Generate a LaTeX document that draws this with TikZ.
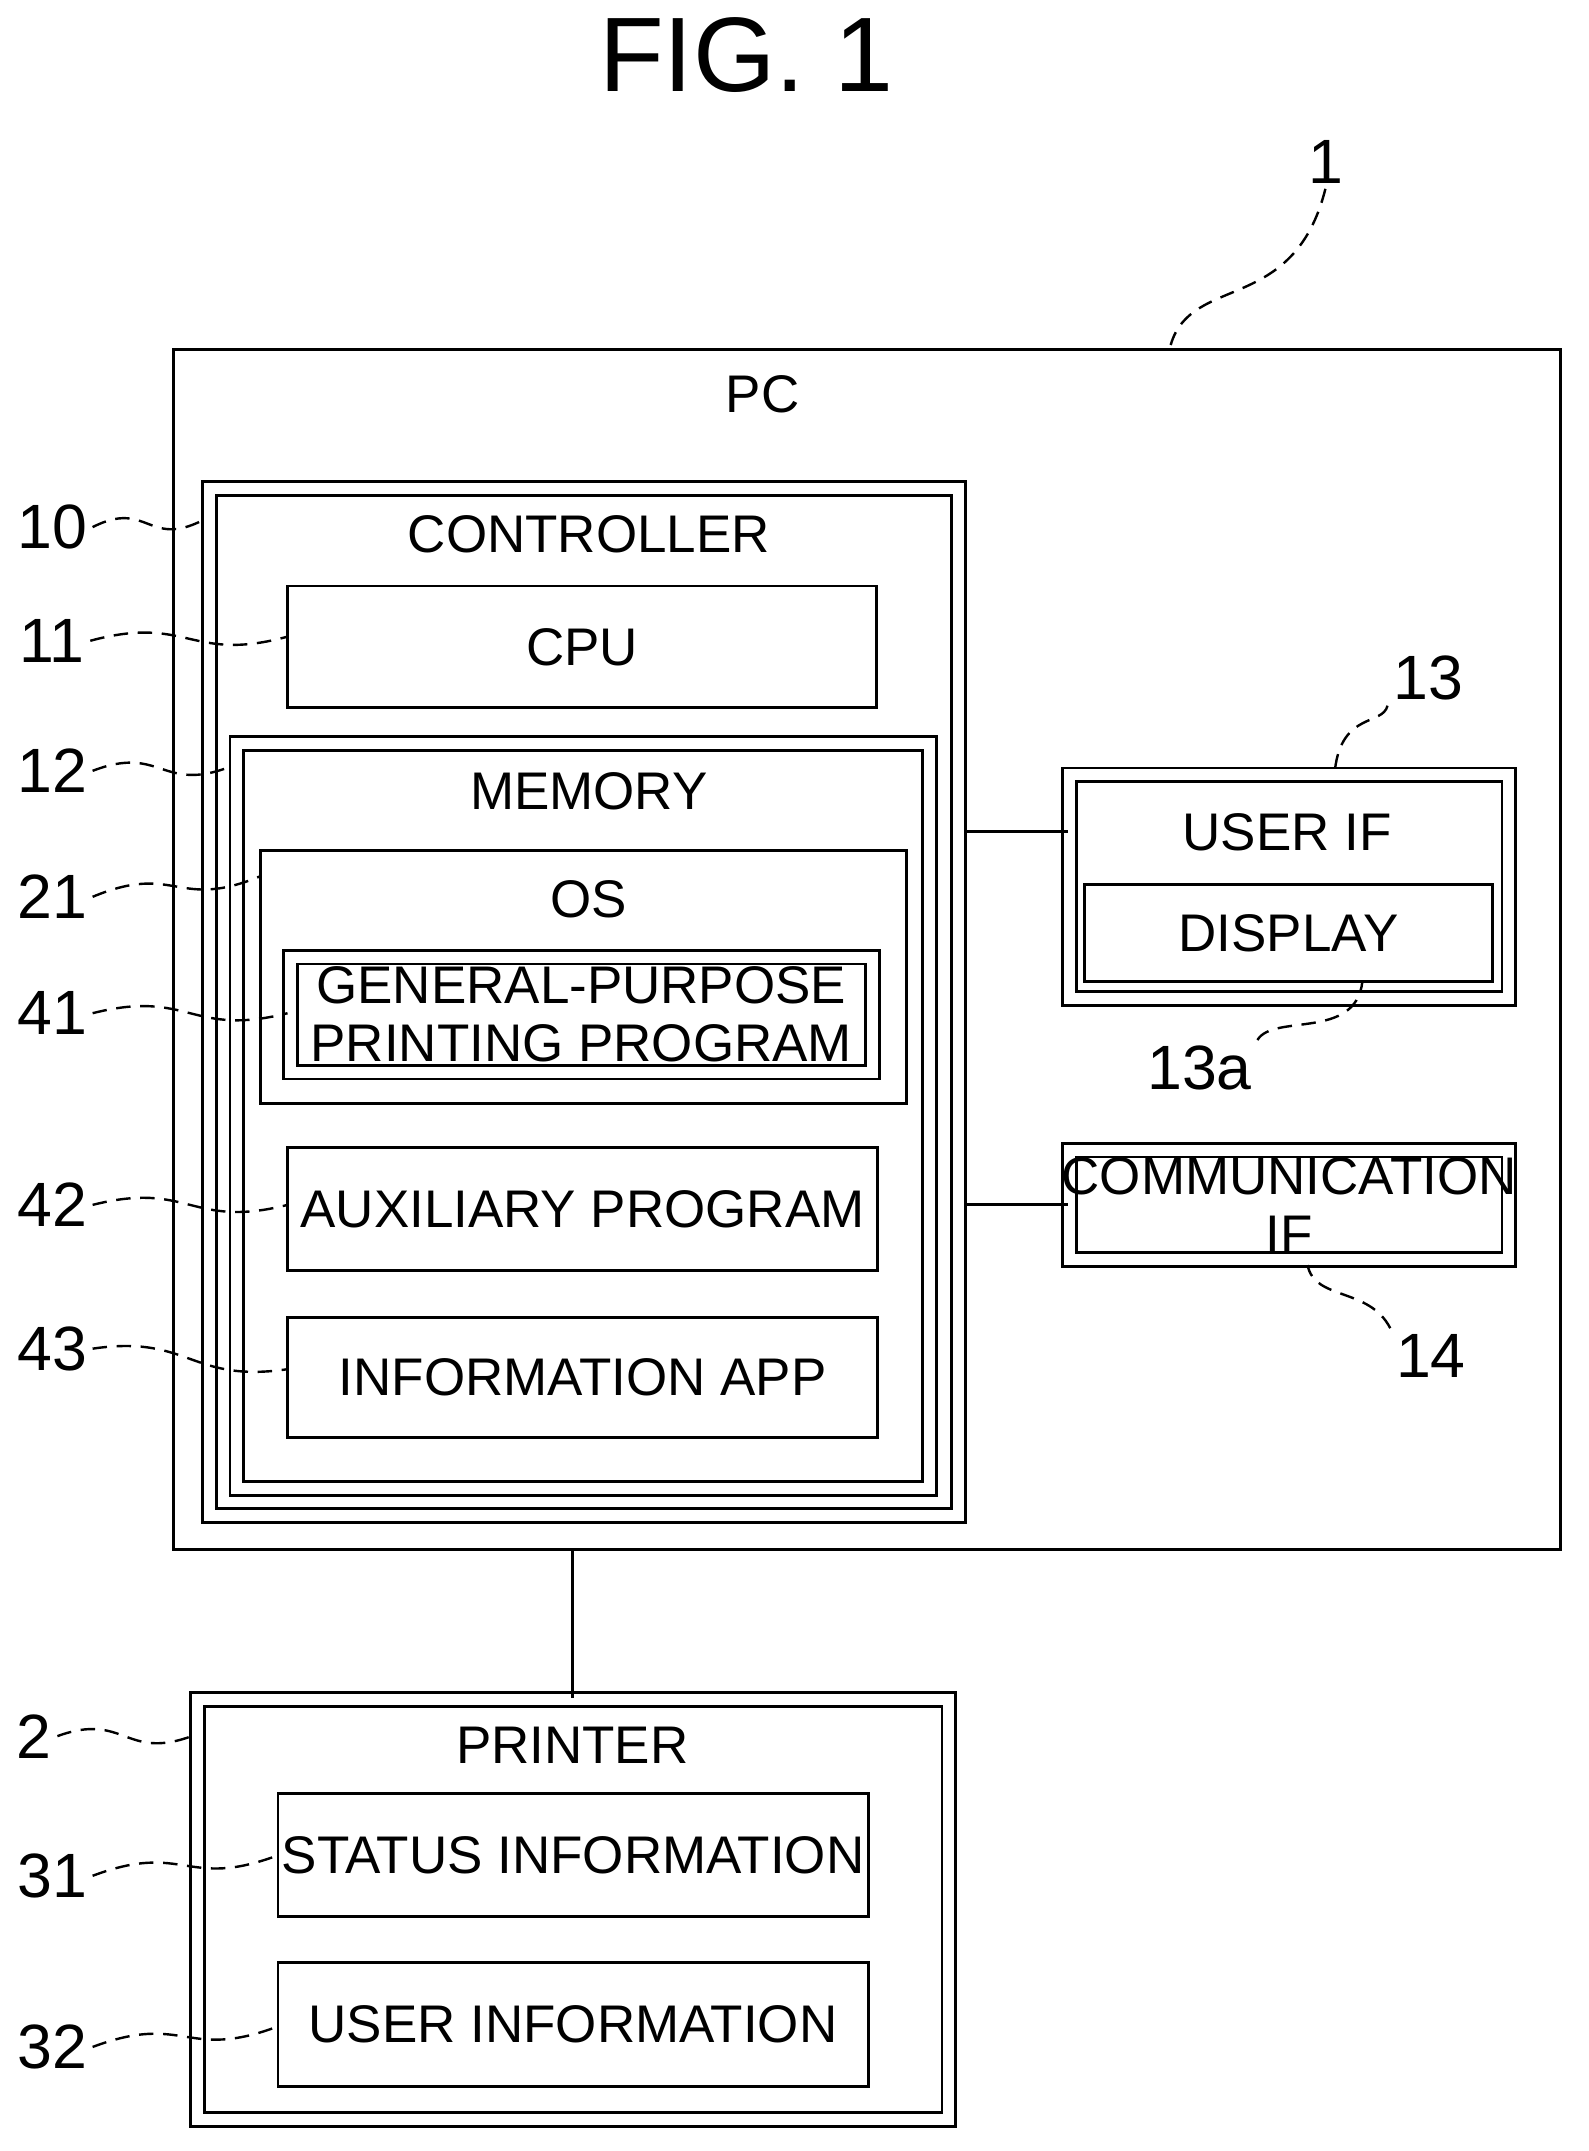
\documentclass[tikz,border=0pt]{standalone}
\usepackage{fontspec}
\setmainfont{Liberation Sans}
\usetikzlibrary{fit,calc}
\tikzset{
  box/.style={draw, inner sep=0pt, line width=0.6pt},
  dbox/.style={box, double, double distance=0.08cm},
  txt/.style={font=\fontsize{11}{12}\selectfont, inner sep=0pt},
  refno/.style={font=\fontsize{13}{14}\selectfont, inner sep=1pt},
  lead/.style={line width=0.5pt, densely dashed}
}
\newcommand{\leadline}[2]{\draw[lead] (#1) .. controls ($(#1)!0.5!(#2)+(0,-18)$) and ($(#1)!0.5!(#2)+(0,18)$) .. (#2);}
\begin{document}
\begin{tikzpicture}[x=0.01cm,y=-0.01cm]
\useasboundingbox (0,0) rectangle (1160,1571);
\node[font=\fontsize{22}{24}\selectfont] (fig) at (545,40) {FIG. 1};
% PC
\node[box, fit={(127,255)(1140,1132)}] (pc) {};
\node[txt] (pclbl) at (557,288) {PC};
\node[dbox, fit={(153,357)(700,1107)}] (ctrl) {};
\node[txt] (ctrllbl) at (430,390) {CONTROLLER};
\node[box, fit={(210,428)(640,517)}] (cpu) {};
\node[txt] at (cpu) {CPU};
\node[dbox, fit={(173,543)(679,1087)}] (mem) {};
\node[txt] (memlbl) at (430,578) {MEMORY};
\node[box, fit={(190,621)(662,806)}] (os) {};
\node[txt] (oslbl) at (430,657) {OS};
\node[dbox, fit={(212,699)(637,783)}] (gpp) {};
\node[txt, align=center] at (gpp) {GENERAL-PURPOSE\\PRINTING PROGRAM};
\node[box, fit={(210,838)(641,928)}] (aux) {};
\node[txt] at (aux) {AUXILIARY PROGRAM};
\node[box, fit={(210,962)(641,1050)}] (info) {};
\node[txt] at (info) {INFORMATION APP};
\node[dbox, fit={(781,566)(1102,729)}] (uif) {};
\node[txt] (uiflbl) at (940,608) {USER IF};
\node[box, fit={(792,646)(1090,717)}] (disp) {};
\node[txt] at (disp) {DISPLAY};
\node[dbox, fit={(781,840)(1102,920)}] (cif) {};
\node[txt, align=center] at (cif) {COMMUNICATION\\IF};
\draw[line width=0.6pt] (uif.west|-0,607) -- (705,607);
\draw[line width=0.6pt] (cif.west|-0,880) -- (705,880);
% printer
\node[dbox, fit={(144,1241)(693,1548)}] (prn) {};
\node[txt] (prnlbl) at (418,1275) {PRINTER};
\node[box, fit={(203,1310)(634,1400)}] (stat) {};
\node[txt] at (stat) {STATUS INFORMATION};
\node[box, fit={(203,1433)(634,1524)}] (user) {};
\node[txt] at (user) {USER INFORMATION};
\draw[line width=0.6pt] (pc.south-|418,0) -- (prn.north-|418,0);
% reference numerals
\node[refno] (r1) at (968,118) {1};
\node[refno] (r10) at (38,385) {10};
\node[refno] (r11) at (38,468) {11};
\node[refno] (r12) at (38,563) {12};
\node[refno] (r21) at (38,655) {21};
\node[refno] (r41) at (38,740) {41};
\node[refno] (r42) at (38,880) {42};
\node[refno] (r43) at (38,985) {43};
\node[refno] (r13) at (1043,495) {13};
\node[refno] (r13a) at (876,780) {13a};
\node[refno] (r14) at (1045,990) {14};
\node[refno] (r2) at (25,1268) {2};
\node[refno] (r31) at (38,1370) {31};
\node[refno] (r32) at (38,1495) {32};
\coordinate (e1) at (855,252);
\coordinate (e10) at (148,380);
\coordinate (e11) at (210,465);
\coordinate (e12) at (168,560);
\coordinate (e21) at (190,640);
\coordinate (e41) at (210,740);
\coordinate (e42) at (210,880);
\coordinate (e43) at (210,1000);
\coordinate (e13) at (975,562);
\coordinate (e13a) at (995,717);
\coordinate (e14) at (955,924);
\coordinate (e2) at (140,1268);
\coordinate (e31) at (203,1355);
\coordinate (e32) at (203,1480);
\draw[lead] (r1.south) .. controls (945,230) and (870,200) .. (e1);
\leadline{r10.east}{e10}
\leadline{r11.east}{e11}
\leadline{r12.east}{e12}
\leadline{r21.east}{e21}
\leadline{r41.east}{e41}
\leadline{r42.east}{e42}
\leadline{r43.east}{e43}
\leadline{r2.east}{e2}
\leadline{r31.east}{e31}
\leadline{r32.east}{e32}
\draw[lead] (r13.south west) .. controls (1010,530) and (980,520) .. (e13);
\draw[lead] (r13a.north east) .. controls (930,740) and (990,760) .. (e13a);
\draw[lead] (r14.north west) .. controls (1000,940) and (960,950) .. (e14);
\end{tikzpicture}
\end{document}
